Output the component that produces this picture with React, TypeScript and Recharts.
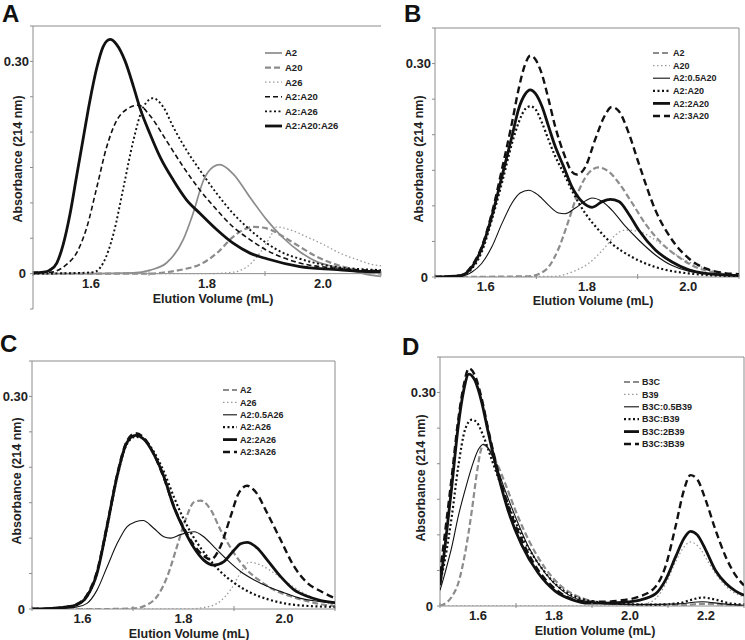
import React from 'react';
import { LineChart, Line, XAxis, YAxis, ReferenceArea, ReferenceLine } from 'recharts';

type Pt = [number, number];

// ---------------- Panel A data (x = elution volume mL, y = absorbance) ----------------
const aA2: Pt[] = [[1.5,0],[1.6,0],[1.673,0.001],[1.702,0.005],[1.730,0.015],[1.759,0.048],[1.776,0.085],[1.794,0.132],[1.811,0.151],[1.822,0.154],[1.845,0.141],[1.874,0.108],[1.903,0.076],[1.932,0.050],[1.960,0.031],[1.989,0.017],[2.018,0.010],[2.047,0.005],[2.075,-0.001],[2.1,-0.004]];
const aA20: Pt[] = [[1.5,0],[1.70,0],[1.730,0.002],[1.759,0.006],[1.788,0.013],[1.817,0.029],[1.845,0.052],[1.863,0.062],[1.880,0.066],[1.903,0.064],[1.932,0.052],[1.960,0.038],[1.989,0.024],[2.018,0.014],[2.047,0.007],[2.075,0.002],[2.1,0]];
const aA26: Pt[] = [[1.5,0],[1.80,0],[1.845,0.002],[1.874,0.013],[1.891,0.029],[1.909,0.052],[1.920,0.066],[1.943,0.062],[1.972,0.052],[2.001,0.041],[2.029,0.029],[2.058,0.020],[2.084,0.013],[2.1,0.011]];
const aA2A20: Pt[] = [[1.5,0.002],[1.529,0.002],[1.558,0.013],[1.575,0.029],[1.593,0.066],[1.610,0.122],[1.627,0.179],[1.644,0.216],[1.661,0.232],[1.682,0.238],[1.702,0.223],[1.730,0.188],[1.759,0.151],[1.788,0.118],[1.817,0.090],[1.845,0.066],[1.874,0.048],[1.903,0.033],[1.960,0.015],[2.018,0.008],[2.075,0.005],[2.1,0.004]];
const aA2A26: Pt[] = [[1.5,0],[1.58,0.001],[1.604,0.002],[1.621,0.015],[1.639,0.057],[1.656,0.122],[1.673,0.188],[1.690,0.235],[1.707,0.248],[1.725,0.235],[1.742,0.207],[1.765,0.174],[1.788,0.146],[1.817,0.113],[1.845,0.085],[1.874,0.062],[1.903,0.043],[1.932,0.029],[1.960,0.021],[2.018,0.010],[2.075,0.006],[2.1,0.005]];
const aA2A20A26: Pt[] = [[1.5,0.001],[1.518,0.002],[1.529,0.005],[1.541,0.015],[1.552,0.041],[1.564,0.085],[1.575,0.137],[1.587,0.193],[1.598,0.244],[1.610,0.291],[1.621,0.321],[1.633,0.331],[1.644,0.324],[1.659,0.300],[1.673,0.265],[1.684,0.235],[1.702,0.197],[1.719,0.165],[1.742,0.132],[1.765,0.104],[1.788,0.085],[1.817,0.062],[1.845,0.043],[1.874,0.029],[1.903,0.021],[1.960,0.010],[2.018,0.006],[2.075,0.003],[2.1,0.003]];

// ---------------- Panel B data ----------------
const bA2: Pt[] = [[1.5,0],[1.685,0.001],[1.704,0.004],[1.724,0.014],[1.744,0.040],[1.764,0.080],[1.783,0.120],[1.803,0.146],[1.823,0.154],[1.843,0.148],[1.863,0.132],[1.889,0.104],[1.915,0.075],[1.948,0.047],[1.981,0.028],[2.014,0.014],[2.047,0.007],[2.1,0.002]];
const bA20: Pt[] = [[1.5,0],[1.737,0.001],[1.770,0.007],[1.803,0.019],[1.836,0.042],[1.856,0.059],[1.876,0.066],[1.902,0.064],[1.935,0.052],[1.968,0.035],[2.001,0.021],[2.034,0.012],[2.067,0.006],[2.1,0.002]];
const bHalf: Pt[] = [[1.5,0],[1.55,0.001],[1.573,0.007],[1.592,0.019],[1.612,0.042],[1.632,0.075],[1.652,0.104],[1.668,0.118],[1.685,0.122],[1.704,0.115],[1.724,0.101],[1.744,0.090],[1.757,0.089],[1.777,0.097],[1.797,0.107],[1.810,0.111],[1.830,0.106],[1.849,0.094],[1.876,0.071],[1.902,0.052],[1.935,0.031],[1.968,0.016],[2.001,0.008],[2.034,0.005],[2.1,0.002]];
const bOne: Pt[] = [[1.5,0],[1.55,0.002],[1.573,0.012],[1.592,0.035],[1.612,0.080],[1.632,0.132],[1.652,0.188],[1.665,0.217],[1.678,0.236],[1.688,0.240],[1.698,0.236],[1.711,0.217],[1.724,0.193],[1.737,0.170],[1.754,0.146],[1.770,0.122],[1.797,0.089],[1.823,0.066],[1.849,0.047],[1.889,0.028],[1.935,0.014],[2.001,0.005],[2.1,0.001]];
const bTwo: Pt[] = [[1.5,0],[1.55,0.002],[1.573,0.014],[1.592,0.040],[1.612,0.085],[1.632,0.141],[1.652,0.198],[1.665,0.236],[1.678,0.257],[1.688,0.263],[1.698,0.258],[1.711,0.240],[1.724,0.212],[1.737,0.184],[1.754,0.155],[1.770,0.127],[1.790,0.106],[1.810,0.098],[1.830,0.106],[1.846,0.109],[1.863,0.106],[1.882,0.089],[1.902,0.066],[1.935,0.038],[1.968,0.021],[2.001,0.010],[2.034,0.005],[2.1,0.002]];
const bThree: Pt[] = [[1.5,0],[1.55,0.002],[1.573,0.016],[1.592,0.042],[1.612,0.089],[1.632,0.151],[1.652,0.217],[1.665,0.264],[1.678,0.299],[1.688,0.311],[1.698,0.306],[1.711,0.285],[1.724,0.250],[1.737,0.212],[1.754,0.174],[1.770,0.148],[1.780,0.144],[1.797,0.155],[1.816,0.193],[1.836,0.228],[1.849,0.239],[1.863,0.233],[1.882,0.203],[1.902,0.160],[1.935,0.094],[1.968,0.052],[2.001,0.026],[2.034,0.012],[2.067,0.006],[2.1,0.004]];

// ---------------- Panel C data ----------------
const cA2: Pt[] = [[1.5,0],[1.65,0],[1.702,0.001],[1.728,0.006],[1.748,0.018],[1.768,0.046],[1.787,0.088],[1.804,0.126],[1.821,0.151],[1.834,0.153],[1.854,0.140],[1.873,0.112],[1.900,0.079],[1.926,0.055],[1.953,0.039],[1.979,0.027],[2.012,0.018],[2.045,0.011],[2.078,0.006],[2.1,0.004]];
const cA26: Pt[] = [[1.5,0],[1.807,0],[1.847,0.003],[1.873,0.011],[1.893,0.027],[1.913,0.051],[1.930,0.066],[1.953,0.062],[1.979,0.051],[2.006,0.037],[2.032,0.025],[2.065,0.013],[2.1,0.005]];
const cHalf: Pt[] = [[1.5,0],[1.56,0.001],[1.589,0.003],[1.609,0.008],[1.629,0.027],[1.649,0.060],[1.669,0.093],[1.688,0.116],[1.705,0.123],[1.720,0.125],[1.741,0.114],[1.761,0.102],[1.774,0.100],[1.794,0.105],[1.821,0.109],[1.840,0.102],[1.860,0.088],[1.887,0.069],[1.913,0.053],[1.940,0.041],[1.966,0.032],[1.999,0.023],[2.032,0.015],[2.065,0.011],[2.1,0.008]];
const cOne: Pt[] = [[1.5,0],[1.54,0.001],[1.569,0.003],[1.589,0.006],[1.609,0.018],[1.629,0.051],[1.649,0.116],[1.669,0.187],[1.688,0.233],[1.705,0.243],[1.721,0.240],[1.741,0.222],[1.761,0.194],[1.781,0.158],[1.801,0.126],[1.821,0.100],[1.847,0.074],[1.873,0.053],[1.900,0.037],[1.933,0.023],[1.966,0.014],[1.999,0.008],[2.032,0.005],[2.1,0.003]];
const cTwo: Pt[] = [[1.5,0],[1.54,0.001],[1.569,0.003],[1.589,0.006],[1.609,0.018],[1.629,0.051],[1.649,0.118],[1.669,0.189],[1.688,0.235],[1.705,0.245],[1.721,0.240],[1.741,0.219],[1.761,0.187],[1.781,0.144],[1.801,0.112],[1.821,0.086],[1.840,0.069],[1.860,0.062],[1.880,0.067],[1.900,0.083],[1.913,0.092],[1.926,0.094],[1.946,0.086],[1.966,0.069],[1.992,0.046],[2.019,0.027],[2.045,0.018],[2.072,0.012],[2.1,0.009]];
const cThree: Pt[] = [[1.5,0],[1.54,0.001],[1.569,0.003],[1.589,0.007],[1.609,0.020],[1.629,0.054],[1.649,0.120],[1.669,0.191],[1.688,0.237],[1.705,0.248],[1.721,0.242],[1.741,0.219],[1.761,0.185],[1.781,0.145],[1.801,0.114],[1.821,0.090],[1.840,0.075],[1.854,0.070],[1.873,0.088],[1.893,0.130],[1.909,0.163],[1.926,0.174],[1.943,0.165],[1.966,0.135],[1.992,0.098],[2.019,0.060],[2.045,0.037],[2.072,0.025],[2.1,0.015]];

// ---------------- Panel D data ----------------
const dB3C: Pt[] = [[1.5,0],[1.509,0.002],[1.531,0.013],[1.548,0.032],[1.566,0.074],[1.584,0.135],[1.597,0.187],[1.608,0.220],[1.614,0.227],[1.627,0.222],[1.645,0.206],[1.671,0.173],[1.698,0.135],[1.733,0.093],[1.777,0.053],[1.821,0.027],[1.865,0.013],[1.935,0.004],[2.023,0.002],[2.129,0.001],[2.190,0.003],[2.243,0.002],[2.3,0]];
const dB39: Pt[] = [[1.5,0],[2.0,0],[2.04,0.003],[2.067,0.010],[2.093,0.030],[2.120,0.062],[2.142,0.083],[2.159,0.090],[2.181,0.083],[2.208,0.060],[2.234,0.039],[2.260,0.024],[2.3,0.013]];
const dHalf: Pt[] = [[1.5,0.022],[1.513,0.046],[1.531,0.083],[1.548,0.126],[1.566,0.163],[1.584,0.196],[1.601,0.220],[1.614,0.227],[1.627,0.222],[1.645,0.201],[1.671,0.163],[1.698,0.126],[1.733,0.083],[1.777,0.046],[1.821,0.022],[1.865,0.009],[1.935,0.003],[2.023,0.002],[2.129,0.003],[2.190,0.006],[2.243,0.003],[2.3,0.001]];
const dOne: Pt[] = [[1.5,0.032],[1.513,0.065],[1.531,0.126],[1.548,0.196],[1.566,0.248],[1.584,0.262],[1.597,0.258],[1.614,0.239],[1.636,0.206],[1.663,0.166],[1.689,0.130],[1.724,0.090],[1.768,0.053],[1.812,0.027],[1.856,0.013],[1.909,0.006],[1.979,0.003],[2.067,0.002],[2.129,0.004],[2.164,0.009],[2.190,0.012],[2.225,0.009],[2.260,0.004],[2.3,0.002]];
const dTwo: Pt[] = [[1.5,0.029],[1.513,0.083],[1.531,0.168],[1.548,0.253],[1.562,0.302],[1.576,0.326],[1.592,0.317],[1.610,0.286],[1.627,0.244],[1.654,0.182],[1.680,0.133],[1.715,0.086],[1.759,0.046],[1.803,0.021],[1.847,0.009],[1.891,0.004],[1.935,0.004],[1.979,0.005],[2.023,0.008],[2.067,0.017],[2.093,0.036],[2.120,0.069],[2.142,0.095],[2.159,0.105],[2.177,0.100],[2.199,0.079],[2.225,0.050],[2.252,0.032],[2.278,0.021],[2.3,0.015]];
const dThree: Pt[] = [[1.5,0.046],[1.513,0.102],[1.531,0.182],[1.548,0.262],[1.562,0.309],[1.576,0.334],[1.592,0.324],[1.610,0.291],[1.627,0.248],[1.654,0.187],[1.680,0.140],[1.715,0.093],[1.759,0.050],[1.803,0.024],[1.847,0.010],[1.891,0.006],[1.935,0.006],[1.979,0.008],[2.023,0.013],[2.067,0.027],[2.093,0.055],[2.120,0.112],[2.142,0.163],[2.159,0.184],[2.177,0.178],[2.199,0.149],[2.225,0.107],[2.252,0.069],[2.278,0.043],[2.3,0.029]];

// ---------------- Axis ticks / labels ----------------
const xTicksShort = [1.5, 1.6, 1.7, 1.8, 1.9, 2.0, 2.1];
const xTicksLong = [1.5, 1.6, 1.7, 1.8, 1.9, 2.0, 2.1, 2.2, 2.3];
const xLabelsShort = ['1.6', '1.8', '2.0'];
const xLabelsLong = ['1.6', '1.8', '2.0', '2.2'];
const yTicksA = [-0.05, 0, 0.05, 0.1, 0.15, 0.2, 0.25, 0.3, 0.35];
const yTicksStd = [0, 0.05, 0.1, 0.15, 0.2, 0.25, 0.3, 0.35];
const xTitle = 'Elution Volume (mL)';
const yTitle = 'Absorbance (214 nm)';

// ---------------- Styles ----------------
type St = { stroke: string; w: number; dash?: string };
const GRAY = '#8c8c8c';
const INK = '#111111';
const FONT = '"Liberation Sans", Arial, Helvetica, sans-serif';
const S: Record<string, St> = {
  graySolid: { stroke: GRAY, w: 1.7 },
  grayDash: { stroke: GRAY, w: 2.2, dash: '6 3' },
  grayDot: { stroke: '#9a9a9a', w: 1.3, dash: '1.5 2.5' },
  blackDash: { stroke: INK, w: 1.6, dash: '5 3' },
  blackDot: { stroke: INK, w: 1.9, dash: '2 2.5' },
  blackThick: { stroke: INK, w: 2.8 },
  blackThin: { stroke: INK, w: 1.1 },
  blackDashThick: { stroke: INK, w: 2.4, dash: '7 4' },
};

type Series = { name: string; data: Pt[]; style: St };

type PanelCfg = {
  letter: string;
  left: number; top: number; width: number; height: number;
  margin: { top: number; right: number; bottom: number; left: number };
  yW: number; xH: number;
  xDomain: [number, number]; yDomain: [number, number];
  xTicks: number[]; xLabels: string[]; yTicks: number[];
  axisY: number; plotLeft: number;
  open: boolean;
  series: Series[];
  legend: { x1: number; x2: number; tx: number; y0: number; dy: number; fs: number };
  letterPos: [number, number];
  xTitlePos: [number, number];
  yTitlePos: [number, number];
};

const panels: PanelCfg[] = [
  {
    letter: 'A', left: 0, top: 0, width: 395, height: 312,
    margin: { top: 26, right: 14, bottom: 0, left: 0 }, yW: 33, xH: 3,
    xDomain: [1.5, 2.1], yDomain: [-0.05, 0.35], xTicks: xTicksShort, xLabels: xLabelsShort, yTicks: yTicksA,
    axisY: 274, plotLeft: 33, open: true,
    series: [
      { name: 'A2', data: aA2, style: S.graySolid },
      { name: 'A20', data: aA20, style: S.grayDash },
      { name: 'A26', data: aA26, style: S.grayDot },
      { name: 'A2:A20', data: aA2A20, style: S.blackDash },
      { name: 'A2:A26', data: aA2A26, style: S.blackDot },
      { name: 'A2:A20:A26', data: aA2A20A26, style: S.blackThick },
    ],
    legend: { x1: 265, x2: 282, tx: 285, y0: 53, dy: 14.6, fs: 9.5 },
    letterPos: [2, 22], xTitlePos: [213, 303], yTitlePos: [18, 159],
  },
  {
    letter: 'B', left: 372, top: 0, width: 373, height: 312,
    margin: { top: 28, right: 6, bottom: 0, left: 0 }, yW: 63, xH: 35,
    xDomain: [1.5, 2.1], yDomain: [0, 0.35], xTicks: xTicksShort, xLabels: xLabelsShort, yTicks: yTicksStd,
    axisY: 277, plotLeft: 63, open: false,
    series: [
      { name: 'A2', data: bA2, style: S.grayDash },
      { name: 'A20', data: bA20, style: S.grayDot },
      { name: 'A2:0.5A20', data: bHalf, style: S.blackThin },
      { name: 'A2:A20', data: bOne, style: { ...S.blackDot, w: 2.2 } },
      { name: 'A2:2A20', data: bTwo, style: S.blackThick },
      { name: 'A2:3A20', data: bThree, style: S.blackDashThick },
    ],
    legend: { x1: 281, x2: 298, tx: 301, y0: 53, dy: 12.6, fs: 9 },
    letterPos: [32, 22], xTitlePos: [221, 305], yTitlePos: [47, 159],
  },
  {
    letter: 'C', left: 0, top: 320, width: 372, height: 320,
    margin: { top: 41, right: 37, bottom: 0, left: 0 }, yW: 32, xH: 31,
    xDomain: [1.5, 2.1], yDomain: [0, 0.35], xTicks: xTicksShort, xLabels: xLabelsShort, yTicks: yTicksStd,
    axisY: 289, plotLeft: 32, open: false,
    series: [
      { name: 'A2', data: cA2, style: S.grayDash },
      { name: 'A26', data: cA26, style: S.grayDot },
      { name: 'A2:0.5A26', data: cHalf, style: S.blackThin },
      { name: 'A2:A26', data: cOne, style: { ...S.blackDot, w: 2.2 } },
      { name: 'A2:2A26', data: cTwo, style: S.blackThick },
      { name: 'A2:3A26', data: cThree, style: S.blackDashThick },
    ],
    legend: { x1: 223, x2: 237, tx: 240, y0: 70, dy: 12.4, fs: 9 },
    letterPos: [0, 32], xTitlePos: [189, 318], yTitlePos: [17, 161],
  },
  {
    letter: 'D', left: 372, top: 320, width: 373, height: 320,
    margin: { top: 37, right: 1, bottom: 0, left: 0 }, yW: 68, xH: 34,
    xDomain: [1.5, 2.3], yDomain: [0, 0.35], xTicks: xTicksLong, xLabels: xLabelsLong, yTicks: yTicksStd,
    axisY: 286, plotLeft: 68, open: false,
    series: [
      { name: 'B3C', data: dB3C, style: S.grayDash },
      { name: 'B39', data: dB39, style: S.grayDot },
      { name: 'B3C:0.5B39', data: dHalf, style: S.blackThin },
      { name: 'B3C:B39', data: dOne, style: { ...S.blackDot, w: 2.2 } },
      { name: 'B3C:2B39', data: dTwo, style: S.blackThick },
      { name: 'B3C:3B39', data: dThree, style: S.blackDashThick },
    ],
    legend: { x1: 252, x2: 267, tx: 270, y0: 62, dy: 12.4, fs: 9 },
    letterPos: [30, 35], xTitlePos: [223, 315], yTitlePos: [49, 158],
  },
];

function Panel({ p }: { p: PanelCfg }) {
  const xTick = (props: any) => {
    const { x, payload } = props;
    const v = Number(payload.value);
    const lab = v.toFixed(1);
    if (p.xLabels.includes(lab)) {
      return (
        <text x={x} y={p.axisY + 14} textAnchor="middle" fontFamily={FONT} fontSize={13} fontWeight="bold" fill="#222">
          {lab}
        </text>
      );
    }
    return <line x1={x} x2={x} y1={p.axisY - 3} y2={p.axisY + 2} stroke={GRAY} strokeWidth={1} />;
  };
  const yTick = (props: any) => {
    const { y, payload } = props;
    const v = Number(payload.value);
    let lab = '';
    let gap = 4;
    if (Math.abs(v - 0.3) < 1e-6) lab = '0.30';
    if (Math.abs(v) < 1e-6) { lab = '0'; gap = 7; }
    return (
      <g>
        <line x1={p.plotLeft - 3} x2={p.plotLeft} y1={y} y2={y} stroke={GRAY} strokeWidth={1} />
        {lab ? (
          <text x={p.plotLeft - gap} y={y} dy="0.36em" textAnchor="end" fontFamily={FONT} fontSize={13} fontWeight="bold" fill="#222">
            {lab}
          </text>
        ) : null}
      </g>
    );
  };
  const lg = p.legend;
  return (
    <div style={{ position: 'absolute', left: p.left, top: p.top, width: p.width, height: p.height }}>
      <LineChart width={p.width} height={p.height} margin={p.margin}>
        <XAxis
          type="number" dataKey="x" domain={p.xDomain} ticks={p.xTicks} interval={0}
          height={p.xH} axisLine={false} tickLine={false} tick={xTick} allowDataOverflow
        />
        <YAxis
          type="number" domain={p.yDomain} ticks={p.yTicks} interval={0} width={p.yW}
          axisLine={p.open ? { stroke: GRAY, strokeWidth: 1 } : false} tickLine={false} tick={yTick} allowDataOverflow
        />
        {p.open ? (
          <ReferenceLine y={0} stroke={GRAY} strokeWidth={1} />
        ) : null}
        {p.open ? (
          <ReferenceLine y={0.35} stroke={GRAY} strokeWidth={1} />
        ) : (
          <ReferenceArea x1={p.xDomain[0]} x2={p.xDomain[1]} y1={0} y2={0.35} fill="none" fillOpacity={0} stroke={GRAY} strokeWidth={1} />
        )}
        {p.series.map((s) => (
          <Line
            key={s.name}
            name={s.name}
            data={s.data.map(([x, y]) => ({ x, y }))}
            dataKey="y"
            type="monotone"
            stroke={s.style.stroke}
            strokeWidth={s.style.w}
            strokeDasharray={s.style.dash}
            dot={false}
            activeDot={false}
            isAnimationActive={false}
          />
        ))}
        <text x={p.letterPos[0]} y={p.letterPos[1]} fontFamily={FONT} fontSize={24} fontWeight="bold" fill="#111">
          {p.letter}
        </text>
        <text x={p.xTitlePos[0]} y={p.xTitlePos[1]} textAnchor="middle" fontFamily={FONT} fontSize={12.5} fontWeight="bold" fill="#222">
          {xTitle}
        </text>
        <text
          x={p.yTitlePos[0]} y={p.yTitlePos[1]} textAnchor="middle" dominantBaseline="central"
          transform={`rotate(-90 ${p.yTitlePos[0]} ${p.yTitlePos[1]})`}
          fontFamily={FONT} fontSize={12.5} fontWeight="bold" fill="#222"
        >
          {yTitle}
        </text>
        <g>
          {p.series.map((s, i) => {
            const yy = lg.y0 + i * lg.dy;
            return (
              <g key={'lg' + s.name}>
                <line x1={lg.x1} x2={lg.x2} y1={yy} y2={yy} stroke={s.style.stroke} strokeWidth={s.style.w} strokeDasharray={s.style.dash} />
                <text x={lg.tx} y={yy} dy="0.35em" fontFamily={FONT} fontSize={lg.fs} fontWeight="bold" fill="#222">
                  {s.name}
                </text>
              </g>
            );
          })}
        </g>
      </LineChart>
    </div>
  );
}

export default function App() {
  return (
    <div style={{ position: 'absolute', left: 0, top: 0, width: 745, height: 640, background: '#fff', overflow: 'hidden' }}>
      {panels.map((p) => (
        <Panel key={p.letter} p={p} />
      ))}
    </div>
  );
}
